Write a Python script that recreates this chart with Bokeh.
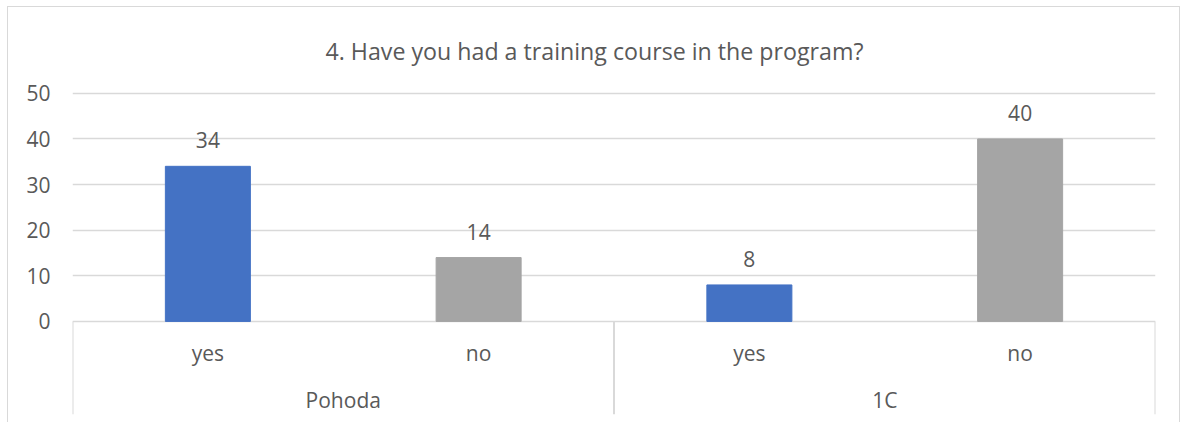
from bokeh.plotting import figure
from bokeh.models import FactorRange, Range1d, ColumnDataSource, FixedTicker
from bokeh.core.properties import value
from bokeh.embed import file_html
from bokeh.resources import INLINE

# ---- data ----
title_text = "4. Have you had a training course in the program?"
groups = ["Pohoda", "1C"]
answers = ["yes", "no"]
counts = [34, 14, 8, 40]
y_ticks = [0, 10, 20, 30, 40, 50]

colors_by_answer = {"yes": "#4472C4", "no": "#A5A5A5"}
FONT = "Open Sans"
TXT = "#595959"
LINE = "#D9D9D9"
Y0, Y1 = -20.4, 50.4

factors = [(g, a) for g in groups for a in answers]
src = ColumnDataSource(dict(
    x=factors,
    top=counts,
    label=[str(c) for c in counts],
    color=[colors_by_answer[a] for (_, a) in factors],
    sub=[a for (_, a) in factors],
))

x_range = FactorRange(*factors, range_padding=0, group_padding=0, factor_padding=0)
p = figure(x_range=x_range, y_range=Range1d(Y0, Y1),
           width=1173, height=416, output_backend="svg", toolbar_location=None,
           x_axis_location=None, min_border_left=64, min_border_right=26,
           min_border_top=83, min_border_bottom=9)
p.styles = {"margin-left": "7px", "margin-top": "6px",
            "border-top": "1px solid #D9D9D9", "border-left": "1px solid #D9D9D9",
            "border-right": "1px solid #D9D9D9"}
p.outline_line_color = None

p.title.text = title_text
p.title.align = "left"
p.title.text_font = FONT
p.title.text_font_size = "23.2px"
p.title.text_font_style = "normal"
p.title.text_color = TXT
p.title.offset = 253
p.title.standoff = 50

p.vbar(x="x", top="top", width=0.314, color="color", source=src)

p.text(x="x", y="top", text="label", source=src, text_align="center", text_baseline="bottom",
       y_offset=-18, text_font=value(FONT), text_font_size="21px", text_color=TXT)

# category axis labels
p.text(x="x", y=value(-7.0), text="sub", source=src, text_align="center",
       text_baseline="middle", text_font=value(FONT), text_font_size="21px", text_color=TXT)
gsrc = ColumnDataSource(dict(x=groups, text=groups))
p.text(x="x", y=value(-17.3), text="text", source=gsrc, text_align="center",
       text_baseline="middle", text_font=value(FONT), text_font_size="21px", text_color=TXT)

# category separators
edges = [0]
for g in groups:
    edges.append(edges[-1] + len(answers))
esrc = ColumnDataSource(dict(x=edges))
p.segment(x0="x", x1="x", y0=value(0), y1=value(Y0), source=esrc,
          line_color=LINE, line_width=2)

p.yaxis.ticker = FixedTicker(ticks=y_ticks)
p.yaxis.axis_line_color = None
p.yaxis.major_tick_line_color = None
p.yaxis.minor_tick_line_color = None
p.yaxis.major_tick_out = 0
p.yaxis.major_label_standoff = 22
p.yaxis.major_label_text_font = FONT
p.yaxis.major_label_text_font_size = "21px"
p.yaxis.major_label_text_color = TXT

p.xgrid.grid_line_color = None
p.ygrid.ticker = FixedTicker(ticks=y_ticks)
p.ygrid.grid_line_color = LINE
p.ygrid.grid_line_width = 1.5

open("out.html", "w").write(file_html(p, INLINE))
